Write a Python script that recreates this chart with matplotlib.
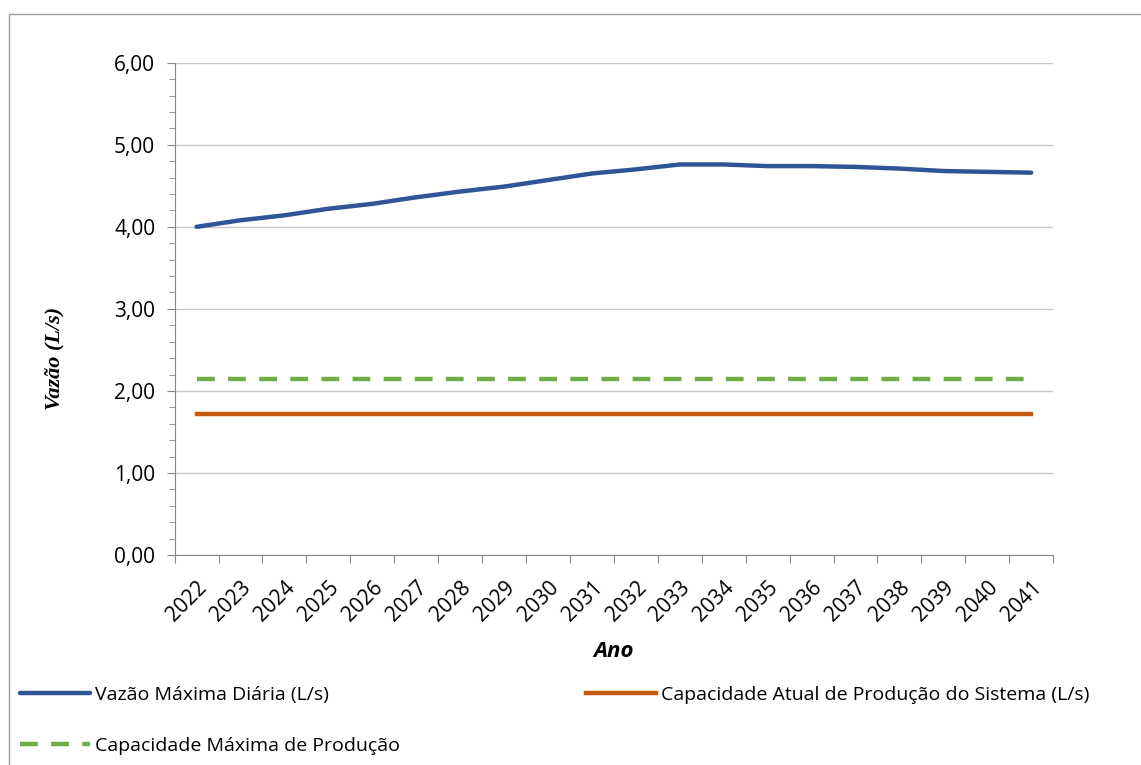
import numpy as np
import matplotlib
matplotlib.use('Agg')
import matplotlib.pyplot as plt
from matplotlib.patches import Rectangle
from matplotlib.ticker import MultipleLocator, FixedLocator

# dados
anos = [str(a) for a in range(2022, 2042)]
vazao_max_diaria = [4.00, 4.08, 4.14, 4.22, 4.28, 4.36, 4.43, 4.49, 4.57, 4.65,
                    4.70, 4.76, 4.76, 4.74, 4.74, 4.73, 4.71, 4.68, 4.67, 4.66]
cap_atual = [1.72] * len(anos)
cap_maxima = [2.14] * len(anos)

lbl_vazao = 'Vazão Máxima Diária (L/s)'
lbl_atual = 'Capacidade Atual de Produção do Sistema (L/s)'
lbl_max = 'Capacidade Máxima de Produção'

sans = ['Open Sans', 'DejaVu Sans']
plt.rcParams['font.family'] = sans

fig = plt.figure(figsize=(11.41, 7.65), dpi=100)
ax = fig.add_axes([0.153, 0.2745, 0.77, 0.6435])

x = np.arange(len(anos))
l1, = ax.plot(x, vazao_max_diaria, color='#2f5597', lw=3.2, solid_capstyle='round')
l2, = ax.plot(x, cap_atual, color='#c55a11', lw=3.2)
l3, = ax.plot(x, cap_maxima, color='#70ad47', lw=3.2, dashes=(4, 3))

ax.set_xlim(-0.5, len(anos) - 0.5)
ax.set_ylim(0, 6)
ax.yaxis.set_minor_locator(MultipleLocator(0.2))
ax.set_yticks(np.arange(0, 7, 1))
ax.set_yticklabels([f'{v:.2f}'.replace('.', ',') for v in range(0, 7)], fontsize=15)
ax.xaxis.set_major_locator(FixedLocator(np.arange(-0.5, len(anos), 1)))
ax.xaxis.set_minor_locator(FixedLocator(x))
ax.set_xticklabels([])
ax.set_xticklabels(anos, minor=True, rotation=45, ha='right', va='top',
                   rotation_mode='anchor', fontsize=15)
ax.tick_params(axis='x', which='minor', length=0, pad=16)
ax.tick_params(axis='x', which='major', length=6, color='#888888', direction='out')
ax.tick_params(axis='y', which='major', length=6, color='#888888', pad=8)
ax.tick_params(axis='y', which='minor', length=4, color='#888888')

ax.grid(axis='y', color='#c8c8c8', lw=1)
ax.set_axisbelow(True)
for s in ['top', 'right']:
    ax.spines[s].set_visible(False)
for s in ['left', 'bottom']:
    ax.spines[s].set_color('#888888')

ax.set_ylabel('Vazão (L/s)', fontsize=16, fontweight='bold', style='italic',
              family=['Liberation Serif', 'DejaVu Serif'])
ax.yaxis.set_label_coords(-0.125, 0.40)
ax.set_xlabel('Ano', fontsize=16, fontweight='bold', style='italic', va='center')
ax.xaxis.set_label_coords(0.5, -0.197)

fig.legend([l1, l3, l2], [lbl_vazao, lbl_max, lbl_atual], ncol=2, loc='upper left',
           bbox_to_anchor=(0.0175, 0.103), frameon=False, fontsize=14,
           borderpad=0, borderaxespad=0,
           handlelength=3.6, handletextpad=0.25, columnspacing=9.6, labelspacing=1.7)

fig.patches.append(Rectangle((0.008, -0.01), 1.0, 0.992, transform=fig.transFigure,
                             fill=False, edgecolor='#a0a0a0', lw=1))

fig.savefig('out.png', dpi=100)
